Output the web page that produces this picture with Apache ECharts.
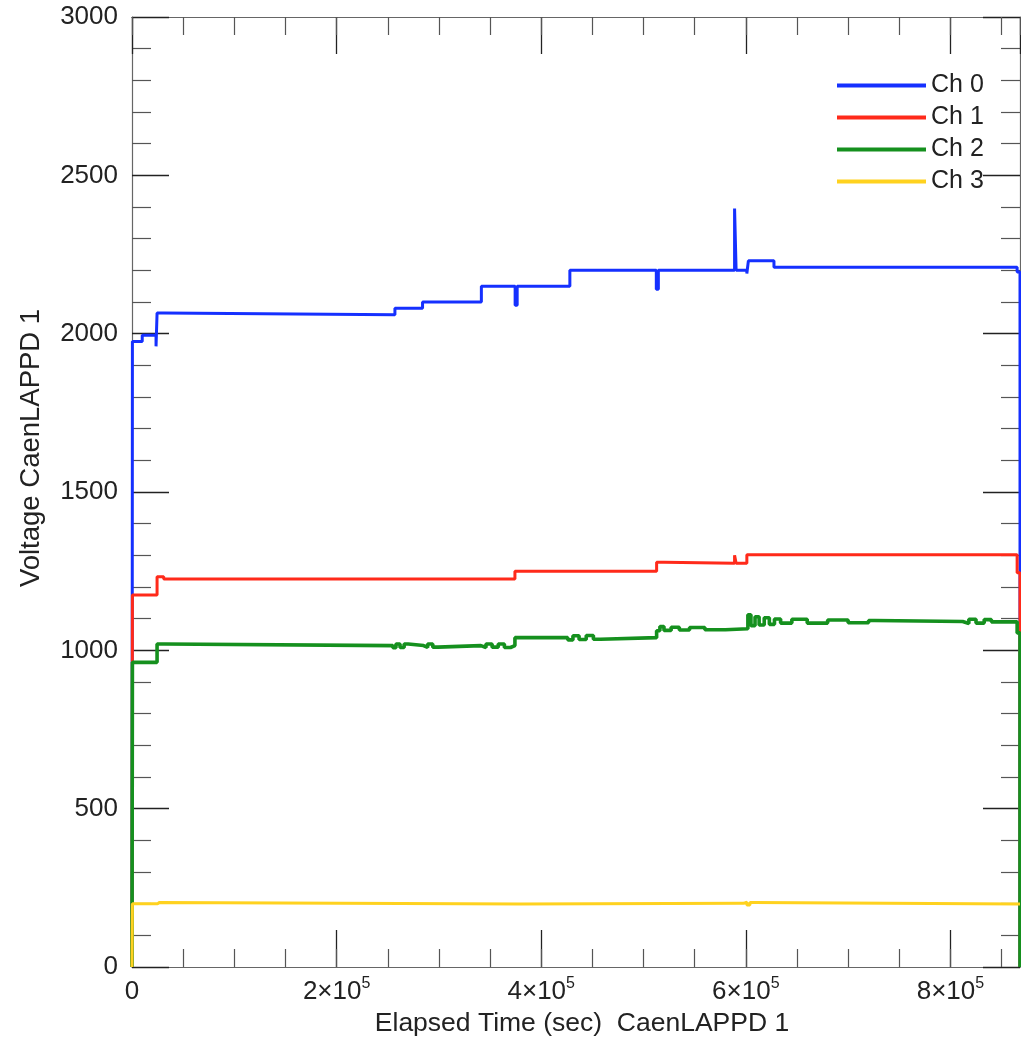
<!DOCTYPE html>
<html>
<head>
<meta charset="utf-8">
<title>Voltage CaenLAPPD 1</title>
<script src="https://cdn.jsdelivr.net/npm/echarts@6/dist/echarts.min.js"></script>
<style>
  html, body { margin: 0; padding: 0; background: #fff; }
  #main { width: 1021px; height: 1039px; }
</style>
</head>
<body>
<div id="main"></div>
<script>
// values: [elapsed time (s), voltage], held until the next point
const channels = ['Ch 0', 'Ch 1', 'Ch 2', 'Ch 3']
const colors = ['#1530ff', '#ff2a1a', '#15901e', '#ffd21f']
const lineWidths = [3, 3, 3.6, 3]
const xMax = 868000
const yTicks = [0, 500, 1000, 1500, 2000, 2500, 3000]

const ch0 = [
  [0, 0], [400, 1975], [10000, 1995], [23500, 1960], [24500, 2065], [31000, 2060],
  [257000, 2080], [284000, 2100], [341500, 2150], [374500, 2090], [376500, 2150],
  [428000, 2200], [512500, 2140], [514500, 2200], [589000, 2395], [590500, 2200],
  [601000, 2190], [602500, 2230], [627500, 2210], [865200, 2195], [868000, 0]
]
const ch1 = [
  [0, 0], [400, 1175], [24500, 1232], [31000, 1225], [374300, 1250],
  [512800, 1278], [520000, 1275], [589000, 1300], [590500, 1275],
  [601000, 1302], [865200, 1245], [868000, 0]
]
const ch2 = [
  [0, 0], [400, 962], [24500, 1020], [32000, 1015],
  [255000, 1008], [258000, 1020], [262000, 1009], [266000, 1020], [270000, 1015],
  [285000, 1009], [289000, 1020], [294000, 1010], [299000, 1015],
  [341000, 1009], [346000, 1020], [352000, 1010], [358000, 1020], [364000, 1009], [370000, 1015],
  [374300, 1040],
  [426000, 1033], [431000, 1046], [437000, 1034], [444000, 1047], [451000, 1035], [458000, 1040],
  [512800, 1062], [516000, 1075], [520000, 1063], [527000, 1073], [535000, 1064],
  [545000, 1072], [560000, 1065], [580000, 1068],
  [602000, 1112], [605000, 1078], [609000, 1106], [613000, 1080], [618000, 1103],
  [623000, 1082], [628000, 1099], [634000, 1086], [645000, 1098], [660000, 1086],
  [680000, 1096], [700000, 1087], [720000, 1094], [726000, 1091],
  [812000, 1085], [818000, 1098], [825000, 1086], [833000, 1097], [840000, 1090],
  [865200, 1055], [868000, 0]
]
const ch3 = [
  [0, 0], [400, 200], [25000, 204], [27000, 199], [380000, 201],
  [598000, 205], [601000, 196], [604000, 204], [608000, 199], [868000, 200]
]
const seriesData = [ch0, ch1, ch2, ch3]

// each reading holds until the next one: add the corner point before every change
function stepped (pts) {
  const out = [pts[0]]
  for (let i = 1; i < pts.length; i++) {
    out.push([pts[i][0], pts[i - 1][1]], pts[i])
  }
  return out
}

const font = 'Liberation Sans, Arial, Helvetica, sans-serif'
const axisLineStyle = { color: '#666', width: 1.2 }
const majorTick = { color: '#222', width: 1.3 }
const minorTick = { color: '#555', width: 1.2 }

// x axes: major ticks (with labels) and a second one for the 5e4 ticks, bottom and top
function xAxisOf (position, interval, tickLen, withLabels) {
  return {
    type: 'value',
    position: position,
    min: 0,
    max: xMax,
    interval: interval,
    axisLine: { show: withLabels || position === 'top', onZero: false, lineStyle: axisLineStyle },
    axisTick: { show: true, inside: true, length: tickLen, lineStyle: interval === 200000 ? majorTick : minorTick },
    splitLine: { show: false },
    axisLabel: withLabels ? {
      margin: 9,
      formatter: v => v === 0 ? '{m|0}' : (v % 200000 === 0 ? '{m|' + (v / 100000) + '×10}{s|5}' : ''),
      rich: {
        m: { fontSize: 26, fontFamily: font, color: '#222', padding: [6, 0, 0, 0], lineHeight: 26 },
        s: { fontSize: 16, fontFamily: font, color: '#222', verticalAlign: 'top', lineHeight: 16 }
      }
    } : { show: false },
    name: withLabels ? 'Elapsed Time (sec)  CaenLAPPD 1' : '',
    nameLocation: 'middle',
    nameGap: 40,
    nameTextStyle: { fontSize: 26.5, fontFamily: font, color: '#222', padding: [0, 0, 0, 12] }
  }
}

function yAxisOf (position, withLabels) {
  return {
    type: 'value',
    position: position,
    min: yTicks[0],
    max: yTicks[yTicks.length - 1],
    interval: yTicks[1] - yTicks[0],
    axisLine: { show: true, onZero: false, lineStyle: axisLineStyle },
    axisTick: { show: true, inside: true, length: 37, lineStyle: majorTick },
    minorTick: { show: true, splitNumber: 5, length: 19, lineStyle: minorTick },
    splitLine: { show: false },
    minorSplitLine: { show: false },
    axisLabel: withLabels ? { margin: 14, fontSize: 26, fontFamily: font, color: '#222', formatter: v => String(v) } : { show: false },
    name: withLabels ? 'Voltage CaenLAPPD 1' : '',
    nameLocation: 'middle',
    nameGap: 87,
    nameTextStyle: { fontSize: 27.5, fontFamily: font, color: '#222', padding: [0, 0, 0, 88] }
  }
}

const option = {
  animation: false,
  backgroundColor: '#fff',
  grid: { left: 132, right: 1, top: 17, bottom: 72, outerBoundsMode: 'none' },
  legend: {
    data: channels,
    orient: 'vertical',
    left: 832,
    top: 68,
    icon: 'rect',
    itemWidth: 89,
    itemHeight: 4,
    itemGap: 7,
    textStyle: { fontSize: 25, fontFamily: font, color: '#222', lineHeight: 25 }
  },
  xAxis: [
    xAxisOf('bottom', 200000, 37, true),
    xAxisOf('bottom', 50000, 18, false),
    xAxisOf('top', 200000, 37, false),
    xAxisOf('top', 50000, 18, false)
  ],
  yAxis: [
    yAxisOf('left', true),
    yAxisOf('right', false)
  ],
  series: channels.map((name, i) => ({
    name: name,
    type: 'line',
    xAxisIndex: 0,
    yAxisIndex: 0,
    showSymbol: false,
    symbol: 'none',
    color: colors[i],
    lineStyle: { width: lineWidths[i], color: colors[i] },
    data: stepped(seriesData[i])
  }))
}

echarts.init(document.getElementById('main')).setOption(option)
</script>
</body>
</html>
